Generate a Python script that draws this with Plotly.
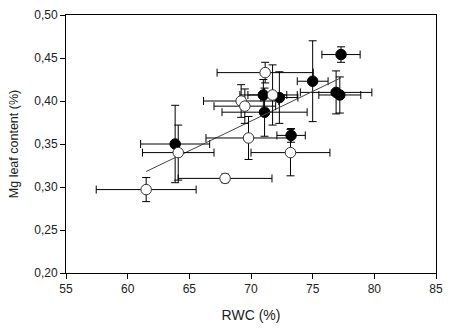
import plotly.graph_objects as go

# Filled symbols (series 1)
filled_x = [77.3, 75.0, 76.9, 77.2, 71.0, 72.3, 71.1, 73.25, 63.85]
filled_y = [0.454, 0.423, 0.410, 0.407, 0.407, 0.404, 0.387, 0.360, 0.350]
filled_xerr = [1.55, 1.25, 2.9, 1.7, 1.9, 1.5, 3.45, 1.15, 2.8]
filled_yerr = [0.009, 0.047, 0.025, 0.021, 0.018, 0.030, 0.028, 0.008, 0.045]

# Open symbols (series 2)
open_x = [71.15, 71.75, 69.2, 69.5, 69.8, 73.2, 64.1, 61.5, 67.9]
open_y = [0.433, 0.407, 0.400, 0.394, 0.357, 0.340, 0.340, 0.297, 0.310]
open_xerr = [3.9, 2.0, 3.05, 2.5, 3.45, 3.2, 2.9, 4.05, 3.8]
open_yerr = [0.012, 0.035, 0.019, 0.020, 0.025, 0.027, 0.032, 0.014, 0.005]

# Regression line endpoints
reg_x = [61.5, 77.3]
reg_y = [0.318, 0.427]

x_ticks = [55, 60, 65, 70, 75, 80, 85]
y_ticks = [0.20, 0.25, 0.30, 0.35, 0.40, 0.45, 0.50]

fig = go.Figure()

fig.add_trace(go.Scatter(
    x=filled_x, y=filled_y, mode="markers",
    marker=dict(color="black", size=10.5, line=dict(color="black", width=1)),
    error_x=dict(type="data", array=filled_xerr, color="black", thickness=1, width=4),
    error_y=dict(type="data", array=filled_yerr, color="black", thickness=1, width=4),
    showlegend=False,
))

fig.add_trace(go.Scatter(
    x=reg_x, y=reg_y, mode="lines",
    line=dict(color="#444444", width=1),
    showlegend=False,
))

fig.add_trace(go.Scatter(
    x=open_x, y=open_y, mode="markers",
    marker=dict(color="white", size=10.5, line=dict(color="#333333", width=1)),
    error_x=dict(type="data", array=open_xerr, color="black", thickness=1, width=4),
    error_y=dict(type="data", array=open_yerr, color="black", thickness=1, width=4),
    showlegend=False,
))

axis_common = dict(
    showline=True, linecolor="black", linewidth=1, mirror=True,
    ticks="outside", ticklen=5, tickcolor="black", tickwidth=1,
    showgrid=False, zeroline=False,
    tickfont=dict(family="Liberation Sans, Arial", size=12, color="#222222"),
)

fig.update_xaxes(
    range=[55, 85], tickvals=x_ticks,
    title=dict(text="RWC (%)", font=dict(family="Liberation Sans, Arial", size=14, color="#222222"), standoff=14),
    **axis_common,
)
fig.update_yaxes(
    range=[0.20, 0.50], tickvals=y_ticks, tickformat=".2f",
    title=dict(text="Mg leaf content (%)", font=dict(family="Liberation Sans, Arial", size=12.5, color="#222222"), standoff=12),
    **axis_common,
)

fig.update_layout(
    width=451, height=328,
    margin=dict(l=66, r=15, t=8, b=52),
    plot_bgcolor="white", paper_bgcolor="white",
    separators=", ",
)

fig.write_html("out.html")
